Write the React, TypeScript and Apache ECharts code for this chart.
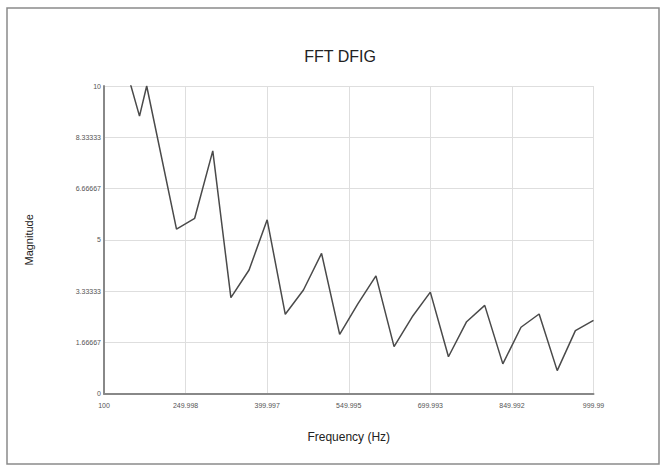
import React, { useEffect, useRef } from "react";
import * as echarts from "echarts";

const frequencies = [
  100, 165.3, 178.5, 233.3, 266.7, 300.0, 333.3, 366.7, 400.0, 433.3, 466.7, 500.0,
  533.3, 566.7, 600.0, 633.3, 666.7, 700.0, 733.3, 766.7, 800.0, 833.3, 866.7,
  900.0, 933.3, 966.7, 999.99,
];
const magnitudes = [
  13.1, 9.02, 10.0, 5.35, 5.7, 7.89, 3.12, 4.02, 5.65, 2.58, 3.37, 4.56,
  1.93, 2.92, 3.83, 1.53, 2.5, 3.3, 1.2, 2.34, 2.87, 0.97, 2.16,
  2.59, 0.75, 2.05, 2.38,
];
const xMin = 100;
const xMax = 999.99;
const yMin = 0;
const yMax = 10;
const tickCount = 6;

const fmt = (v: number) => String(parseFloat(Number(v).toPrecision(6)));

export default function App() {
  const ref = useRef<HTMLDivElement>(null);
  useEffect(() => {
    if (!ref.current) return;
    const chart = echarts.init(ref.current, null, { renderer: "svg" });
    const font = "'Liberation Sans', Arial, sans-serif";
    chart.setOption({
      animation: false,
      backgroundColor: "#ffffff",
      graphic: [
        {
          type: "rect",
          shape: { x: 7, y: 8, width: 652, height: 456 },
          style: { fill: "none", stroke: "#8a8a8a", lineWidth: 1.5 },
          silent: true,
        },
        {
          type: "text",
          x: 340,
          y: 56,
          style: {
            text: "FFT DFIG",
            font: `16px ${font}`,
            fill: "#222",
            textAlign: "center",
            textVerticalAlign: "middle",
          },
        },
      ],
      grid: { left: 104, right: 73.5, top: 86, bottom: 78.3, containLabel: false },
      xAxis: {
        type: "value",
        min: xMin,
        max: xMax,
        interval: (xMax - xMin) / tickCount,
        name: "Frequency (Hz)",
        nameLocation: "middle",
        nameGap: 37,
        nameTextStyle: { fontFamily: font, fontSize: 12, color: "#222" },
        axisLine: { show: true, lineStyle: { color: "#888", width: 2 } },
        axisTick: { show: false },
        axisLabel: {
          formatter: (v: number) => fmt(v),
          fontFamily: font,
          fontSize: 7,
          color: "#555",
          margin: 8,
          showMinLabel: true,
          showMaxLabel: true,
        },
        splitLine: { show: true, lineStyle: { color: "#dedede", width: 1 } },
      },
      yAxis: {
        type: "value",
        min: yMin,
        max: yMax,
        interval: (yMax - yMin) / tickCount,
        name: "Magnitude",
        nameLocation: "middle",
        nameGap: 70,
        nameTextStyle: { fontFamily: font, fontSize: 11, color: "#222" },
        axisLine: { show: true, lineStyle: { color: "#888", width: 2 } },
        axisTick: { show: false },
        axisLabel: {
          formatter: (v: number) => fmt(v),
          fontFamily: font,
          fontSize: 7,
          color: "#555",
          margin: 3,
        },
        splitLine: { show: true, lineStyle: { color: "#dedede", width: 1 } },
      },
      series: [
        {
          type: "line",
          data: frequencies.map((f, i) => [f, magnitudes[i]]),
          showSymbol: false,
          symbol: "none",
          clip: true,
          lineStyle: { color: "#4a4a4a", width: 1.5 },
        },
      ],
    });
    return () => chart.dispose();
  }, []);
  return <div ref={ref} style={{ width: 667, height: 472, position: "absolute", left: 0, top: 0 }} />;
}
